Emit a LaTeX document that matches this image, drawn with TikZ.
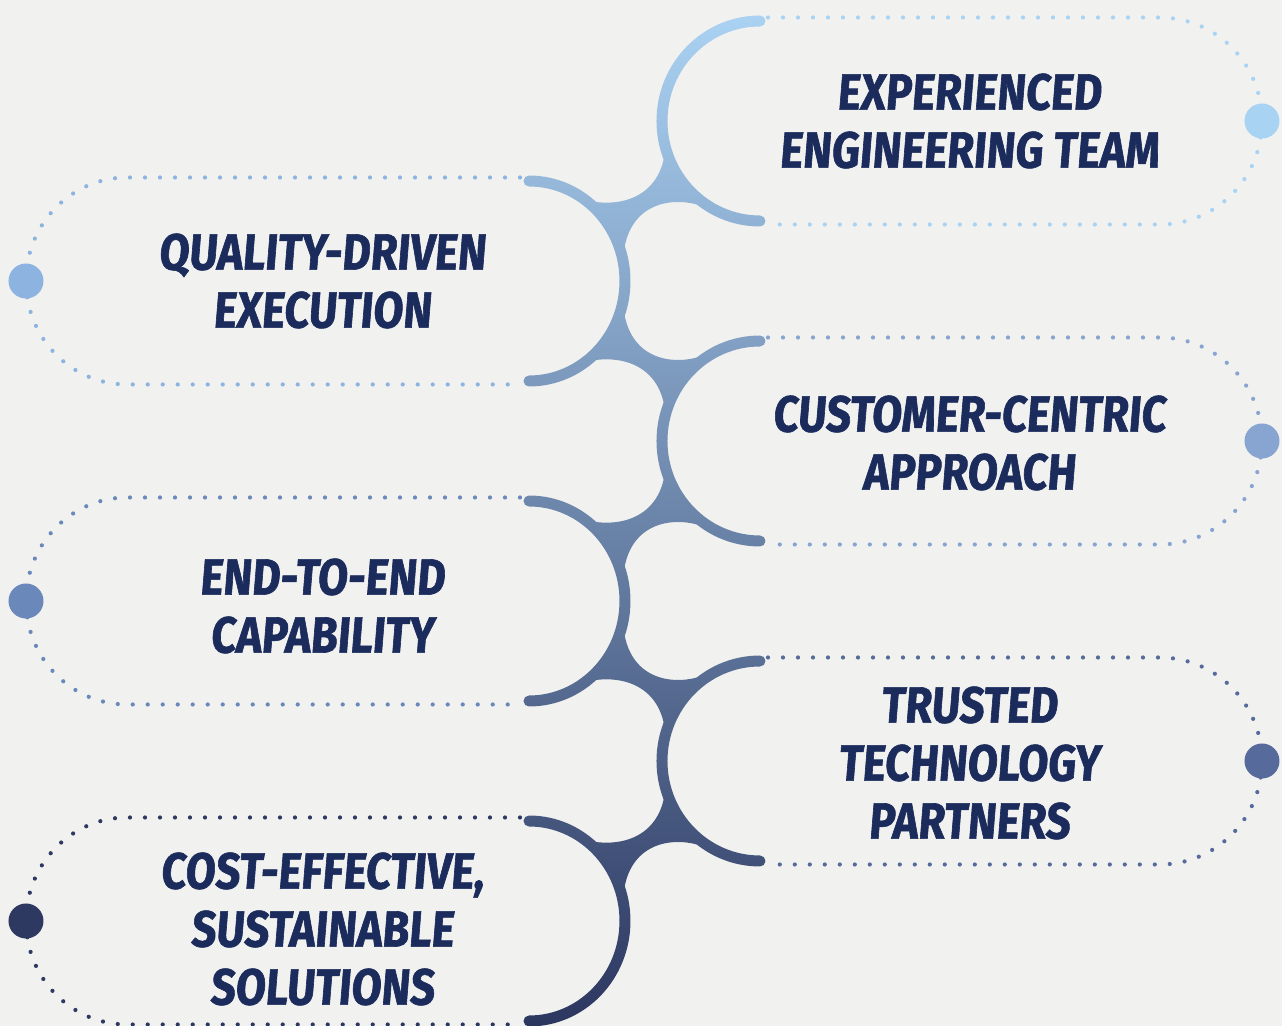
\documentclass[tikz,border=0pt]{standalone}
\usepackage{fontspec}
\usetikzlibrary{fadings}
\newfontfamily\headfont{Fira Sans}[FakeStretch=0.855,FakeSlant=0.08,FakeBold=1.2]
\definecolor{bgc}{HTML}{F1F1F0}
\definecolor{navy}{HTML}{1B2C5C}
\definecolor{spA}{HTML}{ACD4F4}
\definecolor{spB}{HTML}{7593C4}
\definecolor{spC}{HTML}{2C3760}
\definecolor{dcA}{HTML}{A9D3F3}
\definecolor{dcB}{HTML}{8DB4E0}
\definecolor{dcC}{HTML}{87A5D0}
\definecolor{dcD}{HTML}{6A88BA}
\definecolor{dcE}{HTML}{566A9C}
\definecolor{dcF}{HTML}{2E3961}
\tikzset{
  spinepen/.style={draw=transparent!0, line width=5.5pt, line cap=round},
  webpen/.style={fill=transparent!0},
  dotline/.style={line width=2.1pt, line cap=round, dash pattern=on 0pt off 7.5pt},
  bigdot/.style={circle, minimum size=17.5pt, inner sep=0pt},
  headtxt/.style={text=navy, font=\headfont\bfseries\fontsize{25.4}{29}\selectfont, align=center, inner sep=0pt}
}
\newcommand\myweb{%
  \fill[webpen] (590,201) .. controls (620,207) and (659,198) .. (665,152)
    -- (683,180) -- (700,200) -- (702,206)
    .. controls (676,197) and (632,200) .. (624,250)
    -- (617,240) -- (601,215) -- cycle;}
\newcommand\myspine{%
  \foreach \k in {0,1,2}{
    \draw[spinepen] (760,{21+320*\k}) arc[start angle=-90,end angle=-270,x radius=98,y radius=100];
    \draw[spinepen] (529,{181+320*\k}) arc[start angle=-90,end angle=90,x radius=96,y radius=100];
  }
  \foreach \s in {0,320,640}{
    \begin{scope}[shift={(0,\s)}]\myweb\end{scope}
  }
  \foreach \s in {0,320}{
    \begin{scope}[shift={(0,562+\s)}, yscale=-1]\myweb\end{scope}
  }
}
\begin{tikzfadingfrompicture}[name=spinefade, x=0.5pt, y=-0.5pt]
  \begin{scope}[shift={(-641,-513)}]
    \useasboundingbox (0,0) rectangle (1282,1026);
    \myspine
  \end{scope}
\end{tikzfadingfrompicture}
\begin{document}
\begin{tikzpicture}[x=0.5pt,y=-0.5pt]
\begin{scope}[shift={(-641,-513)}]
  \useasboundingbox (0,0) rectangle (1282,1026);
  \fill[bgc] (0,0) rectangle (1282,1026);
  % dotted stadiums, right
  \foreach \cy/\col in {121/dcA,441/dcC,761/dcE}{
    \draw[dotline, draw=\col] (768,{\cy-103.5}) -- (1160,{\cy-103.5})
      arc[start angle=-90,end angle=90,x radius=102,y radius=103.5] -- (768,{\cy+103.5});
  }
  % dotted stadiums, left
  \foreach \cy/\col in {281/dcB,601/dcD,921/dcF}{
    \draw[dotline, draw=\col] (520,{\cy-103.5}) -- (127,{\cy-103.5})
      arc[start angle=-90,end angle=-270,x radius=101,y radius=103.5] -- (520,{\cy+103.5});
  }
  % spine with gradient
  \shade[top color=spA, middle color=spB, bottom color=spC, path fading=spinefade, fit fading=false] (0,0) rectangle (1282,1026);
  % big dots
  \node[bigdot, fill=dcA] (d1) at (1262,121) {};
  \node[bigdot, fill=dcB] (d2) at (26,281) {};
  \node[bigdot, fill=dcC] (d3) at (1262,441) {};
  \node[bigdot, fill=dcD] (d4) at (26,601) {};
  \node[bigdot, fill=dcE] (d5) at (1262,761) {};
  \node[bigdot, fill=dcF] (d6) at (26,921) {};
  % texts
  \node[headtxt] (t1) at (969,121) {EXPERIENCED\\ENGINEERING TEAM};
  \node[headtxt] (t2) at (322,281) {QUALITY-DRIVEN\\EXECUTION};
  \node[headtxt] (t3) at (969,443) {CUSTOMER-CENTRIC\\APPROACH};
  \node[headtxt] (t4) at (322,606) {END-TO-END\\CAPABILITY};
  \node[headtxt] (t5) at (969,763) {TRUSTED\\TECHNOLOGY\\PARTNERS};
  \node[headtxt] (t6) at (322,929) {COST-EFFECTIVE,\\SUSTAINABLE\\SOLUTIONS};
\end{scope}
\end{tikzpicture}
\end{document}
